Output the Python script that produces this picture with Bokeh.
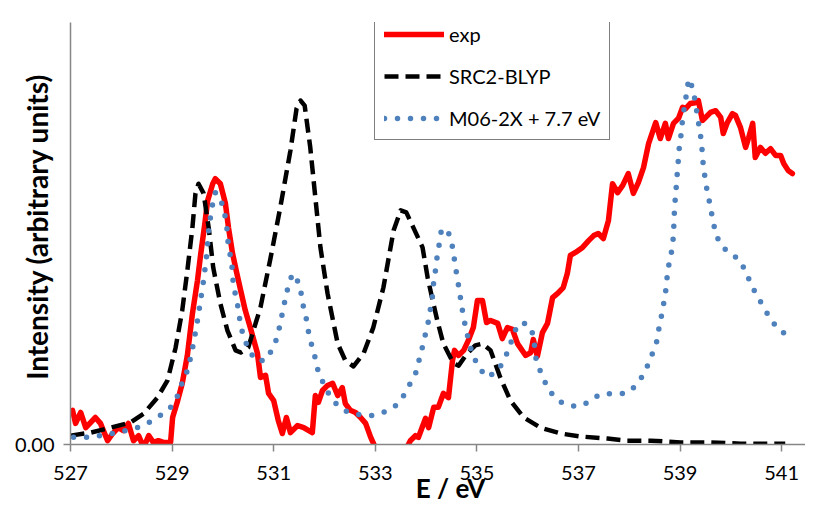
from bokeh.plotting import figure
from bokeh.models import Range1d, FixedTicker, Legend, LegendItem
from bokeh.embed import file_html
from bokeh.resources import INLINE

# ---- data ----
exp_E = [527.04, 527.10, 527.20, 527.30, 527.49, 527.59, 527.73, 527.83, 527.94, 528.04,
         528.14, 528.24, 528.34, 528.44, 528.54, 528.63, 528.73, 528.83, 528.97, 529.01,
         529.11, 529.20, 529.30, 529.40, 529.50, 529.56, 529.64, 529.70, 529.80, 529.85,
         529.95, 530.05, 530.11, 530.19, 530.27, 530.35, 530.44, 530.54, 530.68, 530.74,
         530.84, 530.90, 531.00, 531.09, 531.17, 531.25, 531.33, 531.47, 531.59, 531.76,
         531.82, 531.88, 531.96, 532.06, 532.16, 532.26, 532.35, 532.41, 532.51, 532.61,
         532.71, 532.81, 532.91, 533.00, 533.20, 533.40, 533.59, 533.69, 533.79, 533.85,
         533.99, 534.05, 534.15, 534.24, 534.34, 534.44, 534.52, 534.56, 534.64, 534.74,
         534.83, 534.93, 535.01, 535.11, 535.19, 535.27, 535.41, 535.50, 535.60, 535.70,
         535.80, 535.96, 536.06, 536.11, 536.19, 536.29, 536.39, 536.49, 536.59, 536.70,
         536.78, 536.84, 536.94, 537.08, 537.20, 537.30, 537.39, 537.49, 537.59, 537.67,
         537.77, 537.87, 537.98, 538.08, 538.18, 538.28, 538.38, 538.52, 538.61, 538.71,
         538.77, 538.87, 538.97, 539.05, 539.11, 539.20, 539.30, 539.36, 539.44, 539.50,
         539.60, 539.70, 539.80, 539.85, 539.93, 540.03, 540.09, 540.19, 540.29, 540.35,
         540.43, 540.48, 540.58, 540.68, 540.78, 540.88, 540.98, 541.04, 541.13, 541.21]
exp_I = [0.081, 0.050, 0.076, 0.040, 0.064, 0.050, 0.009, 0.026, 0.040, 0.033,
         0.050, 0.009, 0.021, -0.007, 0.021, 0.005, 0.009, 0.005, 0.005, 0.064,
         0.104, 0.145, 0.211, 0.310, 0.389, 0.448, 0.519, 0.578, 0.618, 0.630,
         0.618, 0.571, 0.514, 0.453, 0.408, 0.365, 0.318, 0.277, 0.216, 0.159,
         0.164, 0.121, 0.104, 0.057, 0.026, 0.064, 0.028, 0.045, 0.040, 0.028,
         0.116, 0.100, 0.128, 0.140, 0.145, 0.116, 0.135, 0.097, 0.081, 0.076,
         0.064, 0.050, 0.017, -0.007, -0.038, -0.038, -0.014, 0.009, 0.021, 0.017,
         0.062, 0.040, 0.088, 0.088, 0.121, 0.111, 0.199, 0.223, 0.211, 0.223,
         0.246, 0.277, 0.341, 0.341, 0.289, 0.294, 0.287, 0.251, 0.277, 0.273,
         0.239, 0.211, 0.218, 0.249, 0.209, 0.265, 0.287, 0.348, 0.358, 0.372,
         0.405, 0.448, 0.455, 0.467, 0.483, 0.495, 0.500, 0.488, 0.531, 0.618,
         0.597, 0.614, 0.642, 0.595, 0.621, 0.656, 0.713, 0.763, 0.725, 0.761,
         0.725, 0.761, 0.773, 0.799, 0.796, 0.808, 0.810, 0.815, 0.768, 0.775,
         0.787, 0.791, 0.775, 0.737, 0.763, 0.784, 0.780, 0.751, 0.704, 0.727,
         0.761, 0.680, 0.704, 0.690, 0.701, 0.685, 0.685, 0.666, 0.649, 0.642]

src_E = [527.00, 527.39, 527.79, 528.18, 528.44, 528.71, 528.91, 529.07, 529.20, 529.30,
         529.40, 529.46, 529.52, 529.62, 529.72, 529.81, 529.95, 530.09, 530.25, 530.35,
         530.50, 530.74, 530.94, 531.13, 531.33, 531.45, 531.53, 531.61, 531.72, 531.82,
         531.92, 532.06, 532.26, 532.41, 532.57, 532.77, 532.96, 533.16, 533.36, 533.50,
         533.61, 533.75, 533.93, 534.03, 534.13, 534.22, 534.34, 534.54, 534.64, 534.81,
         534.97, 535.11, 535.27, 535.46, 535.66, 535.92, 536.25, 536.65, 537.04, 537.57,
         537.96, 538.42, 539.01, 539.60, 540.19, 541.07]
src_I = [0.021, 0.028, 0.040, 0.052, 0.073, 0.111, 0.152, 0.230, 0.318, 0.412,
         0.514, 0.595, 0.618, 0.595, 0.514, 0.419, 0.334, 0.270, 0.223, 0.218,
         0.230, 0.325, 0.443, 0.562, 0.697, 0.796, 0.815, 0.803, 0.704, 0.585,
         0.467, 0.358, 0.239, 0.199, 0.185, 0.216, 0.277, 0.372, 0.507, 0.555,
         0.550, 0.514, 0.467, 0.396, 0.341, 0.294, 0.239, 0.192, 0.187, 0.216,
         0.235, 0.239, 0.223, 0.159, 0.104, 0.064, 0.040, 0.026, 0.019, 0.014,
         0.009, 0.009, 0.005, 0.005, 0.002, 0.002]

m06_E = [527.06, 527.33, 527.59, 527.83, 528.08, 528.32, 528.54, 528.77, 528.97, 529.11,
         529.20, 529.30, 529.36, 529.42, 529.50, 529.56, 529.62, 529.68, 529.72, 529.76,
         529.80, 529.85, 529.93, 530.01, 530.07, 530.11, 530.17, 530.21, 530.27, 530.35,
         530.41, 530.50, 530.64, 530.84, 530.98, 531.07, 531.13, 531.23, 531.29, 531.37,
         531.49, 531.55, 531.59, 531.65, 531.69, 531.76, 531.82, 531.88, 531.98, 532.10,
         532.26, 532.47, 532.75, 532.96, 533.20, 533.44, 533.57, 533.69, 533.81, 533.87,
         533.93, 533.99, 534.05, 534.09, 534.13, 534.15, 534.19, 534.22, 534.26, 534.30,
         534.36, 534.42, 534.50, 534.54, 534.58, 534.62, 534.66, 534.70, 534.74, 534.85,
         534.93, 535.05, 535.21, 535.41, 535.54, 535.64, 535.72, 535.82, 535.98, 536.11,
         536.17, 536.27, 536.37, 536.51, 536.70, 536.96, 537.20, 537.41, 537.67, 537.93,
         538.14, 538.28, 538.38, 538.48, 538.56, 538.59, 538.65, 538.69, 538.73, 538.75,
         538.79, 538.85, 538.87, 538.89, 538.91, 538.93, 538.95, 538.97, 538.99, 539.03,
         539.05, 539.09, 539.13, 539.17, 539.26, 539.30, 539.34, 539.38, 539.42, 539.44,
         539.46, 539.50, 539.54, 539.60, 539.64, 539.70, 539.78, 539.95, 540.17, 540.29,
         540.39, 540.50, 540.64, 540.76, 540.92, 541.11]
m06_I = [0.017, 0.017, 0.021, 0.026, 0.033, 0.040, 0.052, 0.069, 0.088, 0.116,
         0.147, 0.175, 0.204, 0.239, 0.294, 0.341, 0.389, 0.448, 0.507, 0.543,
         0.571, 0.597, 0.590, 0.559, 0.526, 0.467, 0.436, 0.372, 0.346, 0.282,
         0.254, 0.227, 0.199, 0.199, 0.227, 0.254, 0.287, 0.346, 0.377, 0.405,
         0.384, 0.353, 0.322, 0.294, 0.263, 0.230, 0.204, 0.171, 0.145, 0.116,
         0.092, 0.076, 0.069, 0.069, 0.078, 0.095, 0.118, 0.145, 0.173, 0.204,
         0.232, 0.263, 0.294, 0.325, 0.355, 0.386, 0.417, 0.448, 0.476, 0.507,
         0.512, 0.509, 0.481, 0.453, 0.419, 0.391, 0.360, 0.329, 0.299, 0.239,
         0.209, 0.180, 0.159, 0.175, 0.201, 0.230, 0.261, 0.287, 0.287, 0.261,
         0.197, 0.168, 0.140, 0.114, 0.097, 0.090, 0.100, 0.118, 0.121, 0.121,
         0.140, 0.166, 0.192, 0.223, 0.251, 0.282, 0.313, 0.344, 0.374, 0.405,
         0.434, 0.467, 0.498, 0.557, 0.590, 0.618, 0.652, 0.680, 0.713, 0.742,
         0.775, 0.803, 0.834, 0.867, 0.841, 0.810, 0.780, 0.749, 0.718, 0.687,
         0.656, 0.626, 0.595, 0.564, 0.533, 0.502, 0.476, 0.455, 0.438, 0.410,
         0.382, 0.355, 0.327, 0.301, 0.275, 0.258]

x_ticks = [527, 529, 531, 533, 535, 537, 539, 541]
y_ticks = [0]
y_tick_labels = {0: "0.00"}
series_names = ["exp", "SRC2-BLYP", "M06-2X + 7.7 eV"]
x_title = "E / eV"
y_title = "Intensity (arbitrary units)"

FONT = "Lato"
AXIS_GREY = "#868686"

p = figure(width=805, height=509, output_backend="svg", toolbar_location=None,
           x_range=Range1d(527, 541.469), y_range=Range1d(0, 1),
           min_border_left=70, min_border_right=0, min_border_top=22, min_border_bottom=65)
p.outline_line_color = None
p.grid.visible = False
p.background_fill_color = "white"
p.border_fill_color = "white"

r_exp = p.line(exp_E, exp_I, line_color="#FF0000", line_width=5.5, line_join="round", line_cap="round")
r_src = p.line(src_E, src_I, line_color="black", line_width=4.5, line_dash="14 7", line_join="round")
r_m06 = p.line(m06_E, m06_I, line_color="#4F81BD", line_width=5.5, line_dash="0 13",
               line_cap="round", line_join="round")

xa = p.xaxis[0]
xa.ticker = FixedTicker(ticks=x_ticks)
xa.axis_line_color = AXIS_GREY
xa.axis_line_width = 1.5
xa.major_tick_line_color = AXIS_GREY
xa.major_tick_line_width = 1.5
xa.major_tick_in = 0
xa.major_tick_out = 7
xa.minor_tick_line_color = None
xa.major_label_text_font = FONT
xa.major_label_text_font_size = "20px"
xa.major_label_text_color = "black"
xa.major_label_standoff = 14
xa.axis_label = "\u00a0\u00a0\u00a0\u00a0" + x_title
xa.axis_label_text_font = FONT
xa.axis_label_text_font_style = "bold"
xa.axis_label_text_font_size = "26px"
xa.axis_label_text_color = "black"
xa.axis_label_standoff = -11

ya = p.yaxis[0]
ya.ticker = FixedTicker(ticks=y_ticks)
ya.major_label_overrides = y_tick_labels
ya.axis_line_color = AXIS_GREY
ya.axis_line_width = 1.5
ya.major_tick_line_color = AXIS_GREY
ya.major_tick_line_width = 1.5
ya.major_tick_in = 0
ya.major_tick_out = 7
ya.minor_tick_line_color = None
ya.major_label_text_font = FONT
ya.major_label_text_font_size = "20px"
ya.major_label_text_color = "black"
ya.major_label_standoff = 9
ya.axis_label = "\u00a0\u00a0" + y_title
ya.axis_label_text_font = FONT
ya.axis_label_text_font_style = "bold"
ya.axis_label_text_font_size = "28px"
ya.axis_label_text_color = "black"
ya.axis_label_standoff = -42

legend = Legend(items=[LegendItem(label=series_names[0], renderers=[r_exp]),
                       LegendItem(label=series_names[1], renderers=[r_src]),
                       LegendItem(label=series_names[2], renderers=[r_m06])],
                location=(304, 304))
legend.border_line_color = "black"
legend.border_line_width = 1.5
legend.background_fill_color = "white"
legend.background_fill_alpha = 1
legend.label_text_font = FONT
legend.label_text_font_size = "20px"
legend.label_text_color = "black"
legend.glyph_width = 60
legend.glyph_height = 20
legend.label_height = 20
legend.spacing = 18
legend.padding = 9
legend.label_standoff = 5
legend.margin = 0
p.add_layout(legend, "center")

open("out.html", "w").write(file_html(p, INLINE))
